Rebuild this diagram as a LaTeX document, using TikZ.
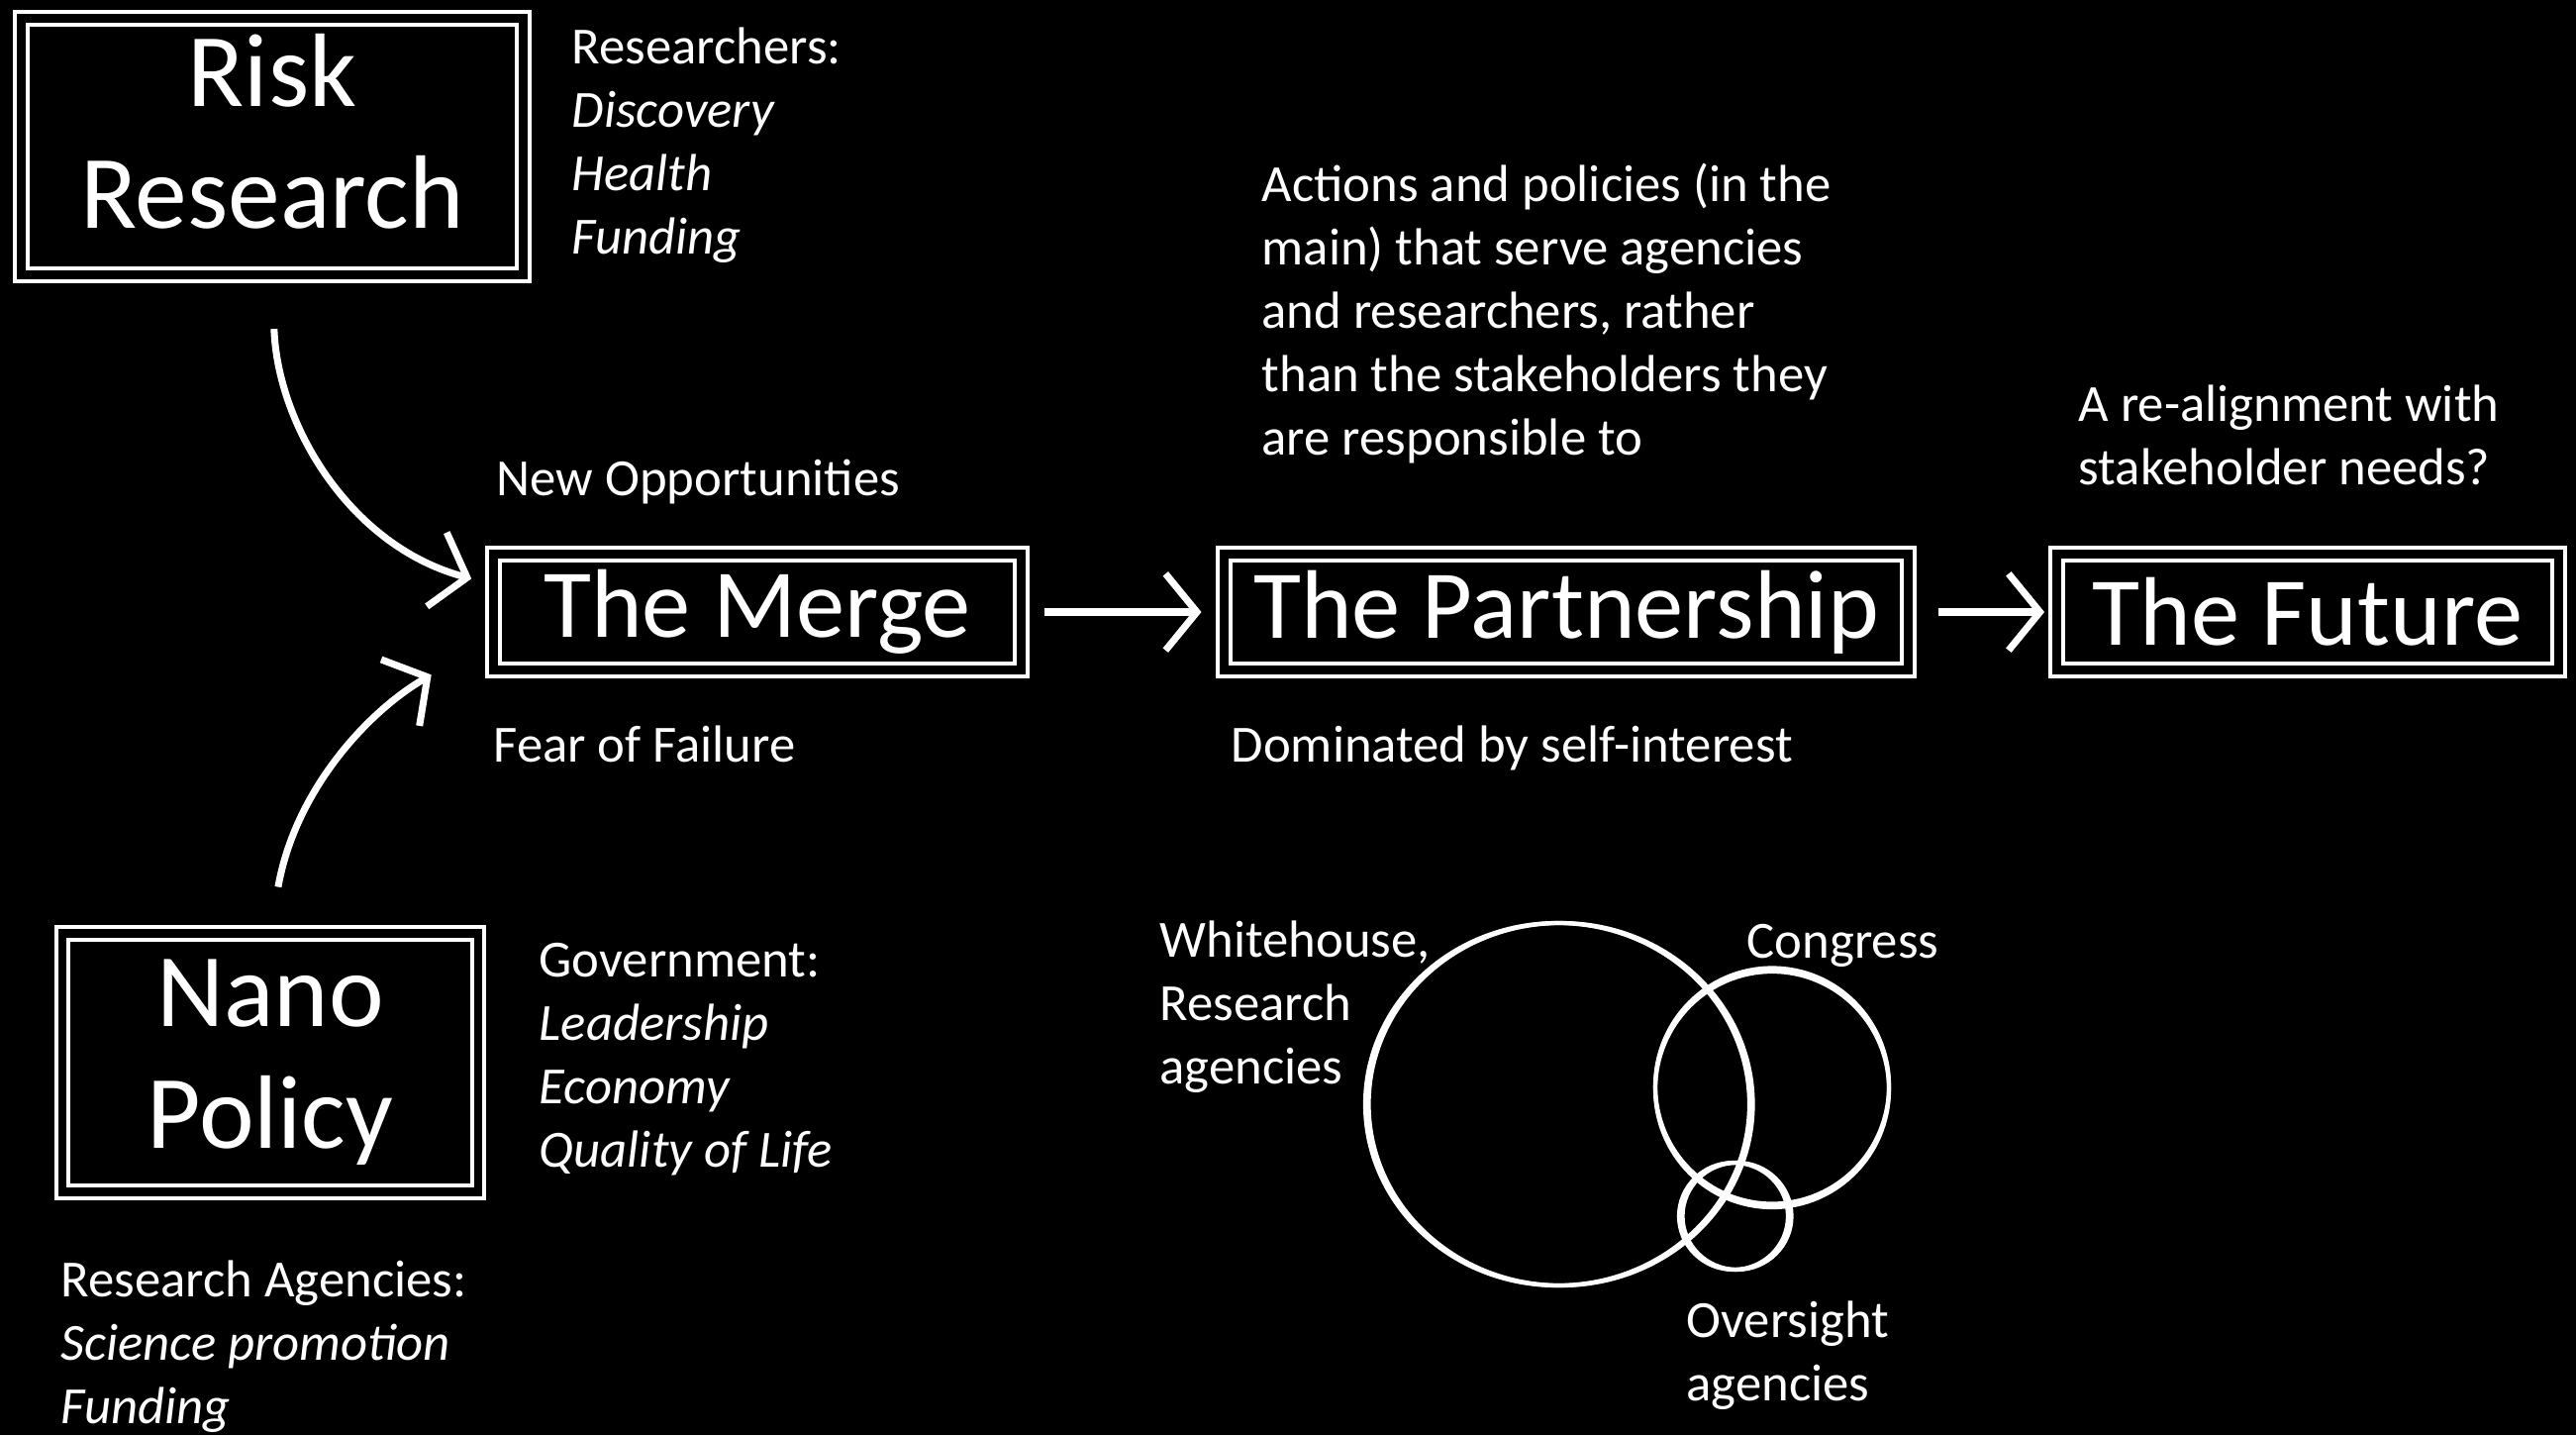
\documentclass[tikz,border=0pt]{standalone}
\usepackage{fontspec}
\setmainfont{Carlito}
\usetikzlibrary{positioning, arrows.meta}

\begin{document}
\begin{tikzpicture}[
    chalk box/.style={rectangle, draw=white, double=black, double distance=2.4pt, line width=1.1pt, text=white, align=center, inner sep=0pt, font=\fontsize{30}{35}\selectfont},
    stage box/.style={chalk box, minimum height=1.17cm, font=\fontsize{28}{34}\selectfont},
    note/.style={anchor=north west, inner sep=0pt, text=white, align=left, font=\fontsize{15}{18.2}\selectfont},
    chalk arrow/.style={draw=white, line width=2pt, -{Straight Barb[length=9pt, width=22pt]}},
    venn/.style={draw=white, line width=1.2pt}]

    % Chalkboard
    \fill[black] (0,0) rectangle (26.02,-14.49);
    \useasboundingbox (0,0) rectangle (26.02,-14.49);

    % Boxes
    \node[chalk box, minimum width=5.07cm, minimum height=2.59cm, text depth=9pt] (risk) at (2.75,-1.48) {Risk\\Research};
    \node[chalk box, minimum width=4.20cm, minimum height=2.61cm] (policy) at (2.73,-10.73) {Nano\\Policy};
    \node[stage box, minimum width=5.33cm] (merge) at (7.65,-6.18) {The Merge};
    \node[stage box, minimum width=6.91cm] (partner) at (15.82,-6.18) {The Partnership};
    \node[stage box, minimum width=5.07cm] (future) at (23.31,-6.18) {The Future};

    % Arrows
    \draw[chalk arrow, shorten <=15pt, shorten >=6pt] (risk.south) to[out=-88, in=165] (merge.174);
    \draw[chalk arrow, shorten <=13pt, shorten >=20pt] (policy.north) to[out=80, in=210] (merge.186);
    \draw[chalk arrow, shorten <=6pt, shorten >=6pt] (merge) -- (partner);
    \draw[chalk arrow, shorten <=8pt, shorten >=3pt] (partner) -- (future);

    % Notes
    \node[note] (researchers) at (5.77,-0.27) {Researchers:\\\textit{Discovery}\\\textit{Health}\\\textit{Funding}};
    \node[note] (government) at (5.44,-9.52) {Government:\\\textit{Leadership}\\\textit{Economy}\\\textit{Quality of Life}};
    \node[note] (agencies) at (0.61,-12.72) {Research Agencies:\\\textit{Science promotion}\\\textit{Funding}};
    \node[note] (opportunities) at (5.01,-4.63) {New Opportunities};
    \node[note] (fear) at (4.98,-7.32) {Fear of Failure};
    \node[note] (actions) at (12.74,-1.64) {Actions and policies (in the\\main) that serve agencies\\and researchers, rather\\than the stakeholders they\\are responsible to};
    \node[note] (dominated) at (12.43,-7.32) {Dominated by self-interest};
    \node[note] (realign) at (20.99,-3.88) {A re-alignment with\\stakeholder needs?};

    % Venn of the partnership
    \foreach \d in {0, 0.035} {
        \draw[venn] (15.73+\d,-11.15) ellipse [x radius=1.94, y radius=1.83];
        \draw[venn] (17.90,-11.00+\d) ellipse [x radius=1.18, y radius=1.19];
        \draw[venn] (17.51+\d,-12.28) ellipse [x radius=0.55, y radius=0.54];
    }
    \node[note] (whitehouse) at (11.71,-9.29) {Whitehouse,\\Research\\agencies};
    \node[note] (congress) at (17.64,-9.33) {Congress};
    \node[note] (oversight) at (17.03,-13.13) {Oversight\\agencies};

\end{tikzpicture}
\end{document}
